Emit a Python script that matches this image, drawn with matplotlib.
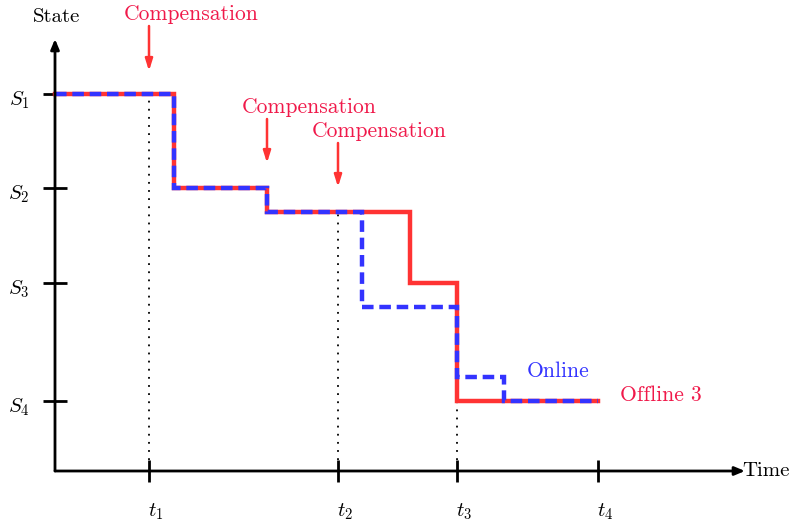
import matplotlib.pyplot as plt

plt.rcParams['font.family'] = ['cmr10', 'DejaVu Serif']
plt.rcParams['mathtext.fontset'] = 'cm'
plt.rcParams['axes.unicode_minus'] = False

# time marks and state levels (arbitrary units)
t_ticks = [9.4, 28.3, 40.2, 54.3]
t_labels = [r'$t_1$', r'$t_2$', r'$t_3$', r'$t_4$']
s_ticks = [37.7, 28.3, 18.8, 7.0]
s_labels = [r'$S_1$', r'$S_2$', r'$S_3$', r'$S_4$']

# step paths: (time, state) corner points
offline_t = [0, 11.9, 11.9, 21.2, 21.2, 35.5, 35.5, 40.2, 40.2, 54.3]
offline_s = [37.7, 37.7, 28.3, 28.3, 25.9, 25.9, 18.8, 18.8, 7.0, 7.0]
online_t = [0, 11.9, 11.9, 21.2, 21.2, 30.7, 30.7, 40.2, 40.2, 44.9, 44.9, 54.3]
online_s = [37.7, 37.7, 28.3, 28.3, 25.9, 25.9, 16.4, 16.4, 9.4, 9.4, 7.0, 7.0]

# dotted guides: time and top state of each guide
guide_t = [9.4, 28.3, 40.2]
guide_top = [37.7, 25.9, 7.0]

# compensation annotations: arrow time, arrow tip state, text centre
comp_t = [9.4, 21.2, 28.3]
comp_tip = [40.0, 30.8, 28.4]
comp_text = [(13.6, 45.7), (25.4, 36.4), (32.4, 34.0)]

red = '#ff3333'
blue = '#3333ff'
txt_red = '#f0194a'

fig = plt.figure(figsize=(7.91, 5.26), dpi=100)
ax = fig.add_axes([0, 0, 1, 1])
ax.set_xlim(-5.5, 73.6)
ax.set_ylim(-5.5, 47.1)
ax.axis('off')

# axes with arrows
ax.annotate('', xy=(69.0, 0), xytext=(0, 0),
            arrowprops=dict(arrowstyle='-|>,head_length=0.6,head_width=0.25',
                            color='k', lw=2, shrinkA=0, shrinkB=0))
ax.annotate('', xy=(0, 43.2), xytext=(0, 0),
            arrowprops=dict(arrowstyle='-|>,head_length=0.6,head_width=0.25',
                            color='k', lw=2, shrinkA=0, shrinkB=0))
ax.text(68.7, 0, 'Time', fontsize=15, va='center', ha='left')
ax.text(0.2, 45.4, 'State', fontsize=15, va='center', ha='center')

# ticks and labels
for t, lab in zip(t_ticks, t_labels):
    ax.plot([t, t], [-1.1, 1.1], color='k', lw=2, solid_capstyle='butt')
    ax.text(t + 0.7, -4.1, lab, fontsize=15, ha='center', va='center')
for s, lab in zip(s_ticks, s_labels):
    ax.plot([-1.2, 1.2], [s, s], color='k', lw=2, solid_capstyle='butt')
    ax.text(-3.6, s - 0.6, lab, fontsize=15, ha='center', va='center')

# dotted guides
for t, top in zip(guide_t, guide_top):
    ax.plot([t, t], [1.1, top], color='k', lw=1.3, linestyle=(0, (1, 3.5)))

# step lines
ax.plot(offline_t, offline_s, color=red, lw=3.2, solid_joinstyle='miter')
ax.plot(online_t, online_s, color=blue, lw=3.2, dashes=(2.6, 1.3),
        dash_joinstyle='miter', dash_capstyle='butt')

# compensation arrows
for t, tip, (tx, ty) in zip(comp_t, comp_tip, comp_text):
    ax.annotate('', xy=(t, tip), xytext=(t, ty - 1.2),
                arrowprops=dict(arrowstyle='-|>,head_length=0.7,head_width=0.22',
                                color=red, lw=1.8, shrinkA=0, shrinkB=0))
    ax.text(tx, ty, 'Compensation', color=txt_red, fontsize=15.5,
            ha='center', va='center')

ax.text(50.3, 10.0, 'Online', color=blue, fontsize=15.5, ha='center', va='center')
ax.text(60.6, 7.6, 'Offline 3', color=txt_red, fontsize=15.5, ha='center', va='center')

fig.savefig('out.png', dpi=100)
